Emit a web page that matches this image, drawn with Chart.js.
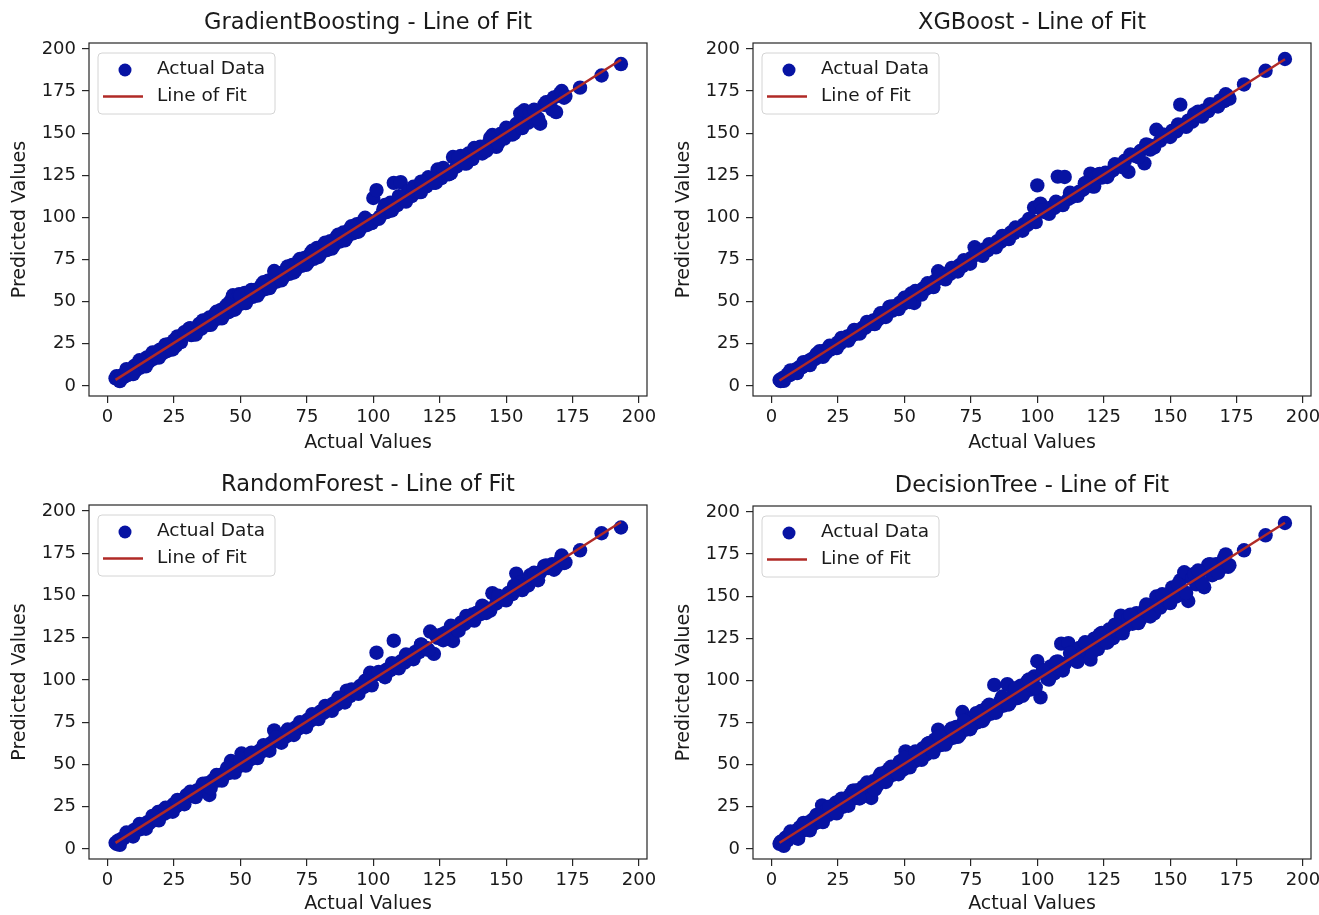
<!DOCTYPE html>
<html>
<head>
<meta charset="utf-8">
<title>Line of Fit</title>
<script src="https://cdn.jsdelivr.net/npm/chart.js"></script>
<style>
  html, body { margin: 0; padding: 0; background: #fff; }
  #grid { position: relative; width: 1319px; height: 915px; overflow: hidden; }
  #grid canvas { position: absolute; }
</style>
</head>
<body>
<div id="grid">
  <canvas id="gb"></canvas>
  <canvas id="xgb"></canvas>
  <canvas id="rf"></canvas>
  <canvas id="dt"></canvas>
</div>
<script>
// test set targets (shared by all four models)
const actualValues = [
  3.0, 3.4, 4.1, 5.2, 6.0, 6.8, 7.5, 8.3, 9.1, 10.0,
  10.6, 11.4, 12.3, 13.1, 14.0, 14.8, 15.5, 16.4, 17.2, 18.1,
  19.0, 19.7, 20.5, 21.4, 22.3, 23.0, 24.1, 25.0, 25.8, 26.9,
  27.6, 28.5, 29.7, 30.6, 31.5, 32.4, 33.6, 34.5, 35.3, 36.4,
  37.5, 38.3, 39.6, 40.5, 41.4, 42.6, 43.5, 44.3, 45.5, 46.4,
  47.2, 48.3, 49.5, 50.4, 51.6, 52.5, 53.7, 54.6, 55.8, 57.0,
  58.1, 59.3, 60.4, 61.5, 62.7, 63.6, 64.8, 66.0, 67.2, 68.4,
  69.5, 70.7, 71.8, 73.0, 74.1, 75.3, 76.4, 77.6, 78.8, 80.0,
  81.3, 82.5, 83.8, 85.0, 86.2, 87.5, 88.7, 90.0, 91.2, 92.5,
  93.8, 95.0, 96.3, 97.5, 98.8, 100.0, 101.2, 102.5, 103.8, 105.0,
  106.4, 107.7, 109.0, 110.3, 111.7, 113.0, 114.4, 115.8, 117.2, 118.6,
  120.0, 121.4, 122.8, 124.2, 125.6, 127.0, 128.5, 130.0, 131.4, 132.9,
  134.3, 135.8, 137.3, 138.8, 140.3, 141.8, 143.3, 144.8, 146.3, 147.8,
  149.3, 150.8, 152.3, 153.8, 155.3, 156.8, 158.3, 159.8, 161.3, 162.8,
  164.3, 165.8, 167.3, 168.8, 170.3, 171.8, 177.8, 185.9, 193.2,
  4.6, 7.1, 9.6, 12.0, 14.4, 16.9, 19.3, 21.8, 24.5, 26.3,
  28.9, 31.1, 33.1, 35.9, 38.8, 41.0, 43.0, 45.0, 47.8, 50.0,
  52.0, 54.1, 56.4, 58.7, 60.9, 63.2, 65.4, 67.8, 70.1, 72.4,
  74.7, 77.0, 79.4, 81.9, 84.4, 86.8, 89.3, 91.8, 94.4, 96.9,
  99.4, 102.0, 104.4, 107.0, 109.6, 112.3, 115.1, 117.9, 120.7, 123.5,
  126.3, 129.2, 132.1, 135.0, 138.0, 141.0, 144.0, 147.0, 150.0, 153.0,
  156.0, 159.0, 162.0, 165.0, 168.0, 170.9, 172.3, 160.5, 142.5, 118.0
];

const gradientBoostingPred = [
  4.5, 5.8, 4.0, 6.1, 5.2, 7.9, 6.4, 9.5, 8.0, 11.8,
  9.2, 13.0, 10.8, 14.6, 12.1, 16.9, 14.3, 17.8, 16.0, 19.9,
  17.4, 21.5, 19.1, 23.0, 20.6, 24.8, 22.7, 27.1, 23.9, 28.3,
  26.0, 30.2, 31.8, 33.9, 30.1, 33.5, 32.2, 36.8, 34.0, 38.7,
  36.1, 40.6, 38.2, 42.7, 39.9, 45.1, 41.8, 46.9, 43.7, 50.6,
  53.8, 46.5, 54.4, 48.9, 55.2, 51.0, 55.9, 52.8, 57.1, 55.3,
  60.2, 57.4, 62.5, 59.8, 68.2, 61.9, 66.9, 64.3, 69.1, 66.5,
  71.8, 68.6, 73.9, 71.2, 76.0, 73.1, 78.6, 75.4, 81.9, 78.2,
  83.5, 80.6, 85.9, 83.1, 88.4, 85.7, 91.0, 88.1, 93.2, 90.6,
  96.0, 93.2, 98.1, 95.4, 97.9, 111.5, 116.2, 100.5, 104.9, 103.1,
  108.7, 120.5, 107.2, 120.9, 110.3, 115.2, 112.6, 117.9, 115.0, 120.8,
  118.4, 123.0, 120.6, 128.4, 123.3, 127.9, 125.6, 135.8, 130.2, 136.5,
  132.1, 137.9, 134.6, 140.2, 142.0, 139.6, 143.8, 148.9, 141.9, 149.5,
  146.8, 152.6, 149.1, 155.4, 161.8, 163.6, 156.2, 162.9, 158.4, 155.6,
  166.8, 168.2, 164.0, 162.5, 173.6, 171.0, 177.0, 184.2, 191.0,
  2.8, 9.9, 7.0, 15.2, 11.6, 19.8, 16.8, 24.5, 21.6, 29.4,
  31.9, 34.2, 30.4, 38.9, 36.2, 44.0, 40.1, 48.3, 45.2, 53.6,
  49.1, 57.0, 53.6, 61.6, 58.0, 66.4, 62.6, 70.9, 67.3, 75.4,
  71.8, 80.2, 76.5, 85.0, 81.5, 89.8, 86.4, 94.8, 91.5, 99.8,
  96.6, 99.1, 107.4, 104.1, 112.6, 109.4, 118.2, 115.0, 123.8, 120.6,
  129.4, 126.2, 135.3, 131.9, 141.2, 137.9, 147.2, 144.0, 153.2, 149.9,
  153.0, 162.3, 158.8, 168.3, 171.2, 175.0, 172.0, 163.9, 139.4, 121.2
];

const xgBoostPred = [
  3.5, 2.8, 4.6, 5.5, 6.9, 6.3, 8.1, 8.9, 9.8, 10.4,
  11.3, 11.0, 13.1, 12.6, 14.9, 14.2, 16.3, 16.0, 18.0, 20.6,
  18.4, 20.8, 19.6, 22.3, 21.7, 23.9, 23.4, 25.8, 25.1, 27.6,
  27.0, 29.4, 29.1, 31.6, 30.8, 32.9, 32.7, 34.8, 34.6, 37.2,
  36.8, 38.9, 38.7, 41.3, 40.6, 43.5, 42.8, 46.9, 44.7, 47.3,
  46.5, 49.4, 48.6, 51.3, 50.7, 54.8, 49.2, 55.6, 54.9, 57.8,
  57.5, 60.2, 59.6, 62.4, 68.0, 64.5, 63.9, 66.8, 66.4, 69.3,
  68.7, 71.6, 71.0, 73.9, 73.2, 76.1, 82.3, 78.5, 78.0, 81.0,
  80.4, 83.3, 82.9, 85.9, 85.4, 88.3, 87.8, 91.0, 90.6, 93.4,
  93.0, 95.9, 95.5, 98.4, 105.8, 119.0, 108.2, 103.3, 102.9, 105.8,
  105.6, 124.2, 108.3, 124.0, 110.9, 112.2, 113.7, 115.3, 116.4, 119.8,
  126.0, 118.3, 125.4, 123.6, 126.5, 126.2, 128.0, 130.3, 130.8, 133.6,
  127.0, 136.8, 136.5, 139.4, 132.1, 142.9, 142.3, 152.0, 145.6, 148.9,
  148.4, 151.5, 151.0, 166.9, 154.8, 157.4, 156.8, 160.7, 160.2, 163.5,
  163.0, 166.7, 166.1, 169.4, 169.0, 171.9, 178.9, 187.0, 194.0,
  3.0, 9.2, 7.6, 14.1, 12.3, 18.9, 17.2, 23.8, 22.4, 28.5,
  26.9, 33.2, 31.0, 38.0, 36.7, 43.1, 40.9, 47.2, 45.6, 52.3,
  49.8, 56.3, 54.2, 60.9, 58.6, 65.4, 63.2, 70.0, 67.9, 74.6,
  72.5, 79.2, 77.2, 84.1, 82.2, 89.0, 87.1, 94.0, 92.1, 99.1,
  97.2, 104.3, 102.1, 109.3, 107.3, 114.6, 112.8, 120.2, 118.4, 125.8,
  124.0, 131.5, 129.8, 137.3, 135.7, 143.3, 141.6, 149.3, 147.7, 155.2,
  153.7, 161.3, 159.8, 167.2, 165.8, 173.1, 170.4, 162.8, 140.2, 120.3
];

const randomForestPred = [
  3.6, 2.9, 5.0, 5.8, 6.2, 7.6, 8.0, 9.4, 9.6, 11.2,
  10.9, 12.4, 11.6, 14.0, 13.2, 15.6, 14.9, 17.2, 16.8, 19.1,
  21.8, 20.6, 22.4, 20.9, 23.3, 22.1, 25.2, 26.6, 25.1, 27.9,
  26.9, 29.3, 31.8, 31.2, 33.4, 32.0, 34.6, 33.5, 36.4, 35.9,
  38.8, 31.9, 40.7, 41.6, 40.5, 43.7, 42.9, 45.4, 44.8, 52.0,
  48.1, 49.5, 48.9, 56.4, 51.0, 53.6, 53.0, 55.7, 55.4, 57.9,
  57.6, 60.4, 59.8, 62.6, 70.1, 64.8, 63.9, 67.0, 66.5, 69.6,
  68.9, 71.8, 71.2, 74.1, 73.4, 76.4, 75.8, 78.7, 78.2, 81.1,
  80.5, 83.6, 82.9, 86.1, 85.3, 88.6, 87.9, 93.6, 90.4, 93.7,
  92.9, 96.4, 95.7, 98.7, 104.2, 102.6, 116.1, 103.4, 102.8, 106.1,
  105.7, 123.2, 108.1, 110.9, 110.2, 112.9, 113.8, 116.6, 116.4, 119.7,
  118.9, 128.6, 115.4, 124.9, 126.7, 127.8, 127.3, 123.0, 130.6, 133.8,
  133.1, 136.9, 138.7, 139.6, 138.9, 142.6, 142.1, 151.3, 145.2, 148.6,
  147.7, 151.4, 150.8, 162.9, 157.6, 156.4, 155.9, 159.7, 160.8, 163.6,
  167.3, 166.2, 168.5, 166.8, 170.6, 169.2, 176.7, 186.8, 190.2,
  2.4, 9.7, 7.3, 14.7, 11.9, 19.5, 16.9, 24.3, 22.0, 29.0,
  26.4, 33.8, 30.6, 38.6, 36.0, 43.7, 40.4, 47.9, 45.1, 53.2,
  49.3, 56.9, 53.7, 61.4, 58.1, 65.9, 62.8, 70.6, 67.4, 75.0,
  72.0, 79.7, 76.8, 84.6, 81.7, 89.4, 86.6, 94.4, 91.7, 99.5,
  96.8, 104.7, 101.6, 109.9, 106.8, 115.0, 112.2, 120.8, 117.8, 126.3,
  123.5, 132.0, 129.1, 137.9, 135.1, 143.9, 141.0, 149.8, 147.1, 155.8,
  153.1, 161.9, 159.0, 167.7, 165.2, 173.6, 169.5, 163.4, 139.6, 121.0
];

const decisionTreePred = [
  3.0, 4.2, 3.1, 6.6, 5.0, 8.8, 7.0, 9.9, 10.6, 6.0,
  12.8, 10.5, 14.2, 12.0, 15.8, 13.6, 17.4, 15.2, 19.6, 17.0,
  25.8, 19.4, 22.8, 20.2, 24.9, 21.8, 27.4, 24.1, 28.6, 25.0,
  29.8, 26.4, 32.3, 34.6, 30.1, 34.8, 30.6, 36.9, 32.5, 38.3,
  30.2, 40.1, 37.2, 42.9, 39.8, 45.2, 41.6, 47.6, 43.9, 48.8,
  45.3, 51.9, 47.0, 57.9, 49.8, 55.7, 51.9, 57.0, 53.6, 59.8,
  55.9, 62.9, 58.1, 65.0, 70.8, 61.6, 67.3, 64.1, 70.2, 66.0,
  72.4, 67.8, 81.2, 70.7, 76.6, 72.9, 79.0, 75.2, 81.8, 77.6,
  84.6, 80.2, 97.3, 83.0, 88.2, 85.1, 97.8, 87.6, 94.2, 89.5,
  96.9, 92.3, 99.6, 94.6, 102.3, 111.4, 89.9, 105.7, 101.0, 108.3,
  104.1, 111.2, 121.8, 109.8, 122.1, 116.6, 112.0, 119.3, 116.4, 121.9,
  112.3, 124.8, 118.6, 128.1, 122.4, 130.2, 125.0, 129.6, 138.4, 131.8,
  137.1, 133.6, 139.9, 136.4, 141.6, 139.2, 144.8, 149.8, 143.2, 150.1,
  146.9, 155.2, 149.8, 159.4, 164.2, 147.1, 160.7, 157.0, 164.6, 155.3,
  168.6, 162.4, 168.9, 166.3, 172.8, 167.4, 177.2, 186.1, 193.4,
  1.8, 10.3, 6.4, 15.4, 11.0, 20.2, 15.9, 25.0, 21.1, 29.8,
  25.6, 34.5, 29.9, 39.4, 35.1, 44.6, 39.7, 48.8, 44.3, 54.0,
  48.4, 57.8, 52.8, 62.3, 57.3, 66.8, 61.9, 71.5, 66.5, 76.0,
  71.0, 80.6, 75.9, 85.6, 80.8, 90.4, 85.7, 95.4, 90.8, 100.6,
  95.9, 105.6, 100.5, 110.9, 105.9, 116.2, 111.0, 121.9, 116.8, 127.4,
  122.4, 133.1, 127.9, 139.0, 134.0, 145.0, 139.8, 151.1, 145.9, 157.0,
  151.9, 163.2, 157.7, 169.0, 163.8, 174.8, 168.4, 165.2, 137.9, 122.6
];

const tickValues = [0, 25, 50, 75, 100, 125, 150, 175, 200];
const modelNames = ["GradientBoosting", "XGBoost", "RandomForest", "DecisionTree"];
const modelPreds = [gradientBoostingPred, xgBoostPred, randomForestPred, decisionTreePred];

const DOT_COLOR = "#0713a3";
const FIT_COLOR = "#b02a26";
const TEXT_COLOR = "#1a1a1a";
const FONT = "'DejaVu Sans', 'Liberation Sans', sans-serif";

// where each subplot sits on the page, and its plot frame inside the canvas
const panels = [
  { id: "gb",  x: 0,   y: 0,   w: 660, h: 460, area: { l: 89, t: 43, r: 647, b: 396 }, yPad: 9,  xPad: 6 },
  { id: "xgb", x: 660, y: 0,   w: 659, h: 460, area: { l: 93, t: 43, r: 651, b: 396 }, yPad: 13, xPad: 6 },
  { id: "rf",  x: 0,   y: 460, w: 660, h: 455, area: { l: 89, t: 45, r: 647, b: 399 }, yPad: 9,  xPad: 0 },
  { id: "dt",  x: 660, y: 460, w: 659, h: 455, area: { l: 93, t: 46, r: 651, b: 399 }, yPad: 13, xPad: 0 }
];

// least squares line, drawn from the smallest to the largest actual value
function lineOfFit(xs, ys) {
  const n = xs.length;
  const mx = xs.reduce((a, b) => a + b, 0) / n;
  const my = ys.reduce((a, b) => a + b, 0) / n;
  let sxy = 0, sxx = 0;
  for (let i = 0; i < n; i++) {
    sxy += (xs[i] - mx) * (ys[i] - my);
    sxx += (xs[i] - mx) * (xs[i] - mx);
  }
  const slope = sxy / sxx;
  const icpt = my - slope * mx;
  const x0 = Math.min(...xs), x1 = Math.max(...xs);
  return [{ x: x0, y: icpt + slope * x0 }, { x: x1, y: icpt + slope * x1 }];
}

// box around the plot, title above it and the legend in the top-left corner
const framePlugin = {
  id: "frame",
  afterDatasetsDraw(chart, args, opts) {
    const { ctx, chartArea: a } = chart;
    ctx.save();
    ctx.strokeStyle = "#262626";
    ctx.lineWidth = 1.2;
    ctx.strokeRect(a.left, a.top, a.right - a.left, a.bottom - a.top);

    ctx.fillStyle = TEXT_COLOR;
    ctx.font = "22.5px " + FONT;
    ctx.textAlign = "center";
    ctx.textBaseline = "middle";
    ctx.fillText(opts.title, (a.left + a.right) / 2, a.top - 20);

    const bx = a.left + 9, by = a.top + 10, bw = 177, bh = 61;
    ctx.beginPath();
    ctx.roundRect(bx, by, bw, bh, 4);
    ctx.fillStyle = "rgba(255,255,255,0.8)";
    ctx.fill();
    ctx.strokeStyle = "#d4d4d4";
    ctx.lineWidth = 1;
    ctx.stroke();

    const scatterSet = chart.data.datasets.find(d => d.type === "scatter");
    const fitSet = chart.data.datasets.find(d => d.type === "line");
    ctx.beginPath();
    ctx.arc(a.left + 36, a.top + 27, 6.5, 0, Math.PI * 2);
    ctx.fillStyle = scatterSet.backgroundColor;
    ctx.fill();
    ctx.beginPath();
    ctx.moveTo(a.left + 14, a.top + 53.5);
    ctx.lineTo(a.left + 54, a.top + 53.5);
    ctx.strokeStyle = fitSet.borderColor;
    ctx.lineWidth = 2.5;
    ctx.stroke();

    ctx.fillStyle = TEXT_COLOR;
    ctx.font = "18.5px " + FONT;
    ctx.textAlign = "left";
    ctx.fillText(scatterSet.label, a.left + 68, a.top + 26.5);
    ctx.fillText(fitSet.label, a.left + 68, a.top + 53.5);
    ctx.restore();
  }
};

const setTicks = (axis) => { axis.ticks = tickValues.map(v => ({ value: v })); };

panels.forEach((p, i) => {
  const canvas = document.getElementById(p.id);
  canvas.width = p.w;
  canvas.height = p.h;
  canvas.style.left = p.x + "px";
  canvas.style.top = p.y + "px";

  const points = actualValues.map((v, k) => ({ x: v, y: modelPreds[i][k] }));
  const tickFont = { family: FONT, size: 18 };
  const labelFont = { family: FONT, size: 19 };
  const axisGrid = { drawOnChartArea: false, drawTicks: true, tickLength: 7, color: "#262626", lineWidth: 1.2 };

  new Chart(canvas, {
    data: {
      datasets: [
        {
          type: "line",
          label: "Line of Fit",
          data: lineOfFit(actualValues, modelPreds[i]),
          borderColor: FIT_COLOR,
          borderWidth: 2.5,
          pointRadius: 0,
          order: 0
        },
        {
          type: "scatter",
          label: "Actual Data",
          data: points,
          backgroundColor: DOT_COLOR,
          borderWidth: 0,
          pointRadius: 7.2,
          order: 1
        }
      ]
    },
    options: {
      responsive: false,
      animation: false,
      devicePixelRatio: 1,
      layout: { padding: { top: p.area.t, right: p.w - p.area.r, bottom: 0, left: 0 } },
      plugins: {
        legend: { display: false },
        tooltip: { enabled: false },
        frame: { title: modelNames[i] + " - Line of Fit" }
      },
      scales: {
        x: {
          type: "linear",
          min: -7,
          max: 203,
          afterBuildTicks: setTicks,
          afterFit: (s) => {
            s.height = p.h - p.area.b;
            s.paddingLeft = 0;
            s.paddingRight = 0;
          },
          grid: axisGrid,
          border: { display: false },
          ticks: { color: TEXT_COLOR, font: tickFont, padding: 4, maxRotation: 0, autoSkip: false },
          title: {
            display: true,
            text: "Actual Values",
            color: TEXT_COLOR,
            font: labelFont,
            padding: { top: 0, bottom: p.xPad }
          }
        },
        y: {
          type: "linear",
          min: -6,
          max: 203.5,
          afterBuildTicks: setTicks,
          afterFit: (s) => {
            s.width = p.area.l;
            s.paddingTop = 0;
            s.paddingBottom = 0;
          },
          grid: axisGrid,
          border: { display: false },
          ticks: { color: TEXT_COLOR, font: tickFont, padding: 6, autoSkip: false },
          title: {
            display: true,
            text: "Predicted Values",
            color: TEXT_COLOR,
            font: labelFont,
            padding: { top: p.yPad, bottom: 0 }
          }
        }
      }
    },
    plugins: [framePlugin]
  });
});
</script>
</body>
</html>
